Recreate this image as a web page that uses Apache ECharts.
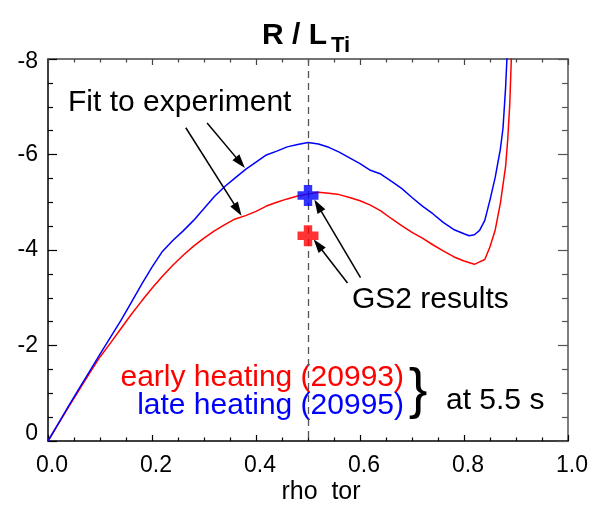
<!DOCTYPE html>
<html>
<head>
<meta charset="utf-8">
<script src="https://cdn.jsdelivr.net/npm/echarts@6/dist/echarts.min.js"></script>
<style>
  html, body { margin: 0; padding: 0; background: #fff; }
  #main { width: 602px; height: 506px; }
</style>
</head>
<body>
<div id="main"></div>
<script>
// late heating (20995), blue
const lateRho = [0, 0.02, 0.04, 0.06, 0.08, 0.10, 0.12, 0.14, 0.16, 0.18, 0.20, 0.22, 0.24, 0.26, 0.28, 0.30,
  0.32, 0.34, 0.36, 0.38, 0.40, 0.42, 0.44, 0.46, 0.48, 0.50, 0.52, 0.54, 0.56, 0.58, 0.60, 0.62, 0.64,
  0.66, 0.68, 0.70, 0.72, 0.74, 0.76, 0.78, 0.80, 0.81, 0.82, 0.83, 0.84, 0.85, 0.86, 0.87, 0.875, 0.88, 0.885];
const lateVal = [0, -0.37, -0.74, -1.10, -1.46, -1.82, -2.17, -2.52, -2.90, -3.28, -3.64, -3.97, -4.20, -4.40, -4.62, -4.87,
  -5.12, -5.33, -5.51, -5.69, -5.84, -5.99, -6.07, -6.16, -6.21, -6.25, -6.22, -6.15, -6.05, -5.93, -5.81, -5.67, -5.59,
  -5.44, -5.29, -5.10, -4.92, -4.76, -4.58, -4.43, -4.34, -4.30, -4.32, -4.41, -4.62, -5.05, -5.52, -6.12, -6.55, -7.40, -8.60];

// early heating (20993), red
const earlyRho = [0, 0.02, 0.04, 0.06, 0.08, 0.10, 0.12, 0.14, 0.16, 0.18, 0.20, 0.22, 0.24, 0.26, 0.28, 0.30,
  0.32, 0.34, 0.36, 0.38, 0.40, 0.42, 0.44, 0.46, 0.48, 0.50, 0.52, 0.54, 0.56, 0.58, 0.60, 0.62, 0.64,
  0.66, 0.68, 0.70, 0.72, 0.74, 0.76, 0.78, 0.80, 0.82, 0.83, 0.84, 0.85, 0.86, 0.87, 0.88, 0.884, 0.888, 0.891, 0.895];
const earlyVal = [0, -0.36, -0.72, -1.07, -1.42, -1.76, -2.05, -2.35, -2.65, -2.93, -3.20, -3.45, -3.68, -3.89, -4.08, -4.25,
  -4.40, -4.53, -4.65, -4.72, -4.81, -4.92, -5.00, -5.07, -5.13, -5.17, -5.21, -5.19, -5.16, -5.10, -5.03, -4.94, -4.82,
  -4.66, -4.51, -4.37, -4.25, -4.11, -3.98, -3.86, -3.77, -3.70, -3.75, -3.80, -4.07, -4.42, -4.98, -5.75, -6.30, -7.05, -8.00, -8.90];

// GS2 results at rho = 0.5
const gs2Rho = 0.5;
const gs2Late = -5.14;
const gs2Early = -4.30;

// annotation arrows [fromRho, fromVal, toRho, toVal]
const fitArrows = [[0.306, -6.66, 0.370, -5.83], [0.265, -6.56, 0.365, -4.84]];
const gs2Arrows = [[0.601, -3.42, 0.519, -4.93], [0.576, -3.31, 0.519, -4.11]];

const xTicks = { min: 0, max: 1, interval: 0.2 };
const yTicks = { min: -8, max: 0, interval: 2 };

const FONT = "'Liberation Sans', Helvetica, Arial, sans-serif";
const RED = '#ff0000';
const BLUE = '#0000ff';
const PLUS = 'path://M6,0H14V6H20V14H14V20H6V14H0V6H6Z';

const chart = echarts.init(document.getElementById('main'));

const pairs = (xs, ys) => xs.map((x, i) => [x, ys[i]]);

const arrowLines = fitArrows.concat(gs2Arrows).map(a => [
  { coord: [a[0], a[1]], symbol: 'none' },
  { coord: [a[2], a[3]], symbol: 'triangle', symbolSize: [9, 14] }
]);

function axisBase(extra) {
  return Object.assign({
    type: 'value',
    splitLine: { show: false },
    axisLine: { show: true, onZero: false, lineStyle: { color: '#000', width: 1.5 } },
    axisTick: { show: true, inside: true, length: 7, lineStyle: { color: '#000', width: 1.2 } },
    minorTick: { show: true, splitNumber: 4, length: 4, lineStyle: { color: '#000', width: 1.2 } }
  }, extra);
}

const option = {
  animation: false,
  backgroundColor: '#fff',
  grid: { left: 48, top: 59, width: 520, height: 382 },
  xAxis: [
    axisBase({
      position: 'bottom', min: xTicks.min, max: xTicks.max, interval: xTicks.interval,
      axisLabel: {
        margin: 13,
        formatter: v => '{a|' + v.toFixed(1) + '}',
        rich: { a: { fontSize: 23, fontFamily: FONT, color: '#000', padding: [0, 0, 0, 8] } }
      },
      axisTick: { show: true, inside: true, length: 6, lineStyle: { color: '#000', width: 1.2 } },
      minorTick: { show: true, splitNumber: 4, length: 3.5, lineStyle: { color: '#000', width: 1.2 } }
    }),
    axisBase({
      position: 'top', min: xTicks.min, max: xTicks.max, interval: xTicks.interval,
      axisLabel: { show: false },
      axisLine: { show: true, onZero: false, lineStyle: { color: '#444', width: 1.5 } },
      axisTick: { show: true, inside: true, length: 6, lineStyle: { color: '#444', width: 1.2 } },
      minorTick: { show: true, splitNumber: 4, length: 3.5, lineStyle: { color: '#444', width: 1.2 } }
    })
  ],
  yAxis: [
    axisBase({
      position: 'left', inverse: true, min: yTicks.min, max: yTicks.max, interval: yTicks.interval,
      axisLabel: {
        margin: 10,
        formatter: v => v === yTicks.min ? '{t|' + v + '}' : (v === yTicks.max ? '{b|' + v + '}' : '{m|' + v + '}'),
        rich: {
          t: { fontSize: 23, fontFamily: FONT, color: '#000', padding: [6, 0, 0, 0] },
          m: { fontSize: 23, fontFamily: FONT, color: '#000' },
          b: { fontSize: 23, fontFamily: FONT, color: '#000', padding: [0, 0, 14, 0] }
        }
      },
      axisTick: { show: true, inside: true, length: 9, lineStyle: { color: '#000', width: 1.2 } },
      minorTick: { show: true, splitNumber: 4, length: 5, lineStyle: { color: '#000', width: 1.2 } }
    }),
    axisBase({
      position: 'right', inverse: true, min: yTicks.min, max: yTicks.max, interval: yTicks.interval,
      axisLabel: { show: false },
      axisLine: { show: true, onZero: false, lineStyle: { color: '#555', width: 1.5 } },
      axisTick: { show: true, inside: true, length: 10, lineStyle: { color: '#555', width: 1.2 } },
      minorTick: { show: true, splitNumber: 4, length: 6, lineStyle: { color: '#555', width: 1.2 } }
    })
  ],
  series: [
    {
      name: 'early heating (20993)',
      type: 'line',
      data: pairs(earlyRho, earlyVal),
      showSymbol: false,
      lineStyle: { color: RED, width: 1.5 },
      z: 3
    },
    {
      name: 'late heating (20995)',
      type: 'line',
      data: pairs(lateRho, lateVal),
      showSymbol: false,
      lineStyle: { color: BLUE, width: 1.5 },
      z: 3,
      markLine: {
        silent: true,
        animation: false,
        symbol: 'none',
        label: { show: false },
        lineStyle: { color: '#555', width: 1.3, type: [7, 5] },
        data: [{ xAxis: gs2Rho }]
      }
    },
    {
      name: 'GS2 early',
      type: 'scatter',
      data: [[gs2Rho, gs2Early]],
      symbol: PLUS,
      symbolSize: 21,
      itemStyle: { color: RED },
      z: 5
    },
    {
      name: 'GS2 late',
      type: 'scatter',
      data: [[gs2Rho, gs2Late]],
      symbol: PLUS,
      symbolSize: 21,
      itemStyle: { color: BLUE },
      z: 5,
      markLine: {
        silent: true,
        animation: false,
        label: { show: false },
        lineStyle: { color: '#000', width: 1.5, type: 'solid' },
        itemStyle: { color: '#000' },
        data: arrowLines
      }
    }
  ],
  graphic: [
    { type: 'text', style: { x: 262, y: 36, text: 'R / L', font: 'bold 30px ' + FONT, fill: '#000', verticalAlign: 'middle' } },
    { type: 'text', style: { x: 331, y: 46, text: 'Ti', font: 'bold 22px ' + FONT, fill: '#000', verticalAlign: 'middle' } },
    { type: 'text', style: { x: 68, y: 103, text: 'Fit to experiment', font: '30px ' + FONT, fill: '#000', verticalAlign: 'middle' } },
    { type: 'text', style: { x: 352, y: 300, text: 'GS2 results', font: '30px ' + FONT, fill: '#000', verticalAlign: 'middle' } },
    { type: 'text', style: { x: 404, y: 378, text: 'early heating (20993)', font: '30px ' + FONT, fill: RED, align: 'right', verticalAlign: 'middle' } },
    { type: 'text', style: { x: 404, y: 406, text: 'late heating (20995)', font: '30px ' + FONT, fill: BLUE, align: 'right', verticalAlign: 'middle' } },
    { type: 'text', style: { x: 418, y: 392, text: '}', font: '56px ' + FONT, fill: '#000', align: 'center', verticalAlign: 'middle' } },
    { type: 'text', style: { x: 446, y: 401, text: 'at 5.5 s', font: '30px ' + FONT, fill: '#000', verticalAlign: 'middle' } },
    { type: 'text', style: { x: 321, y: 492, text: 'rho  tor', font: '25px ' + FONT, fill: '#000', align: 'center', verticalAlign: 'middle' } }
  ]
};

chart.setOption(option);
</script>
</body>
</html>
